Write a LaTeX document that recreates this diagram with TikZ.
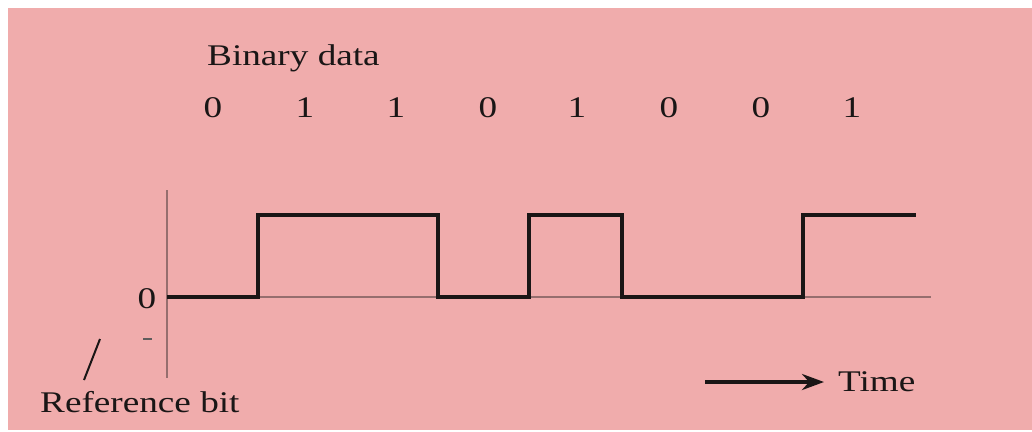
\documentclass[tikz,border=0pt]{standalone}
\usepackage{fontspec}
\setmainfont{Liberation Serif}
\usetikzlibrary{arrows.meta}
\definecolor{bgpink}{RGB}{240,172,172}
\definecolor{axisgray}{RGB}{150,110,110}
\definecolor{ink}{RGB}{26,22,22}
\tikzset{
  lbl/.style={inner sep=0pt, text=ink, font=\fontsize{30}{36}\selectfont},
  sig/.style={line width=4pt, ink, line join=miter},
  axisline/.style={line width=2pt, axisgray},
}
\newcommand{\wide}[1]{\scalebox{1.24}[1]{#1}}
\begin{document}
\begin{tikzpicture}[x=1pt,y=-1pt]
\useasboundingbox (0,0) rectangle (1032,431);
\fill[white] (0,0) rectangle (1032,431);
\fill[bgpink] (8,8) rectangle (1032,430);
% axes
\coordinate (atop) at (167,190);
\coordinate (abot) at (167,378);
\coordinate (bl) at (167,297);
\coordinate (br) at (931,297);
\draw[axisline] (atop) -- (abot);
\draw[axisline] (bl) -- (br);
% signal
\coordinate (s0) at (167,297);
\coordinate (s8) at (916,215);
\draw[sig] (s0) -- (258,297) -- (258,215) -- (438,215) -- (438,297) -- (529,297) -- (529,215) -- (622,215) -- (622,297) -- (803,297) -- (803,215) -- (s8);
% texts
\node[lbl, anchor=base west] (title) at (207,65) {\wide{Binary data}};
\foreach \x/\b [count=\i] in {213/0,305/1,396/1,488/0,577/1,669/0,761/0,852/1}{
  \node[lbl, anchor=base] (b\i) at (\x,117) {\wide{\b}};
}
\node[lbl, anchor=base] (zero) at (147,308) {\wide{0}};
\node[lbl, anchor=base west] (ref) at (40,412) {\wide{Reference bit}};
\node[lbl, anchor=base west] (time) at (838,391) {\wide{Time}};
% small tick and pointer
\coordinate (t1) at (143,339);
\coordinate (t2) at (152,339);
\draw[line width=1.5pt, ink!70] (t1) -- (t2);
\coordinate (p1) at (100,339);
\coordinate (p2) at (84,380);
\draw[line width=2pt, ink] (p1) -- (p2);
% time arrow
\coordinate (arrs) at (705,382);
\coordinate (arre) at (824,382);
\draw[line width=4pt, ink, -{Stealth[length=22pt,width=16pt]}] (arrs) -- (arre);
\end{tikzpicture}
\end{document}
